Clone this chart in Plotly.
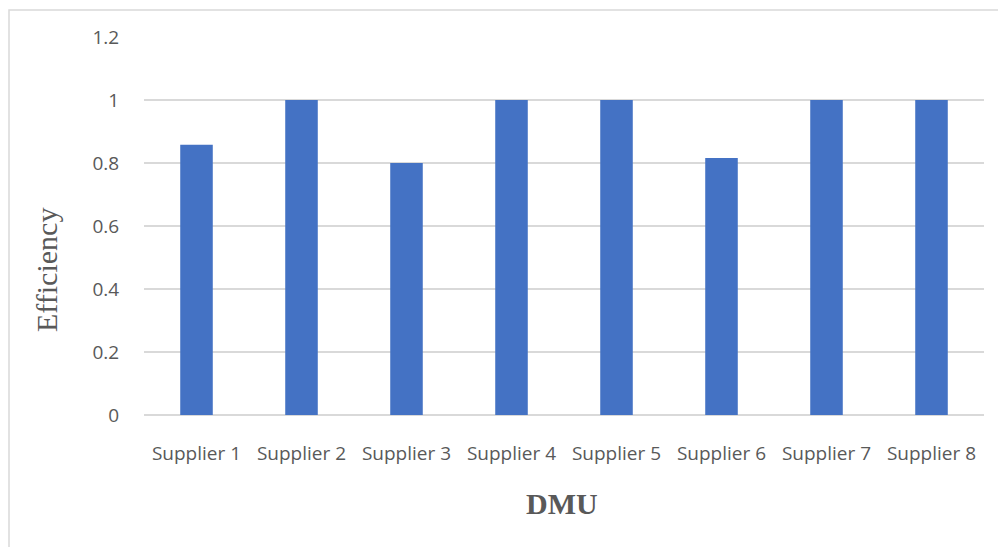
import plotly.graph_objects as go

categories = ["Supplier 1", "Supplier 2", "Supplier 3", "Supplier 4",
              "Supplier 5", "Supplier 6", "Supplier 7", "Supplier 8"]
efficiency = [0.858, 1.0, 0.80, 1.0, 1.0, 0.816, 1.0, 1.0]
y_ticks = [0, 0.2, 0.4, 0.6, 0.8, 1.0, 1.2]
y_tick_labels = ["0", "0.2", "0.4", "0.6", "0.8", "1", "1.2"]

W, H = 998, 547
L, R, T, B = 144, 984, 37, 415
pw, ph = R - L, B - T

def px(x):
    return (x - L) / pw

def py(y):
    return (B - y) / ph

fig = go.Figure(go.Bar(
    x=categories, y=efficiency,
    marker=dict(color="#4472C4", line=dict(width=0)),
    width=0.31,
))

grey = "#595959"
tick_font = dict(family="Open Sans, sans-serif", size=19, color=grey)
fig.update_layout(
    width=W, height=H,
    margin=dict(l=L, r=W - R, t=T, b=H - B),
    paper_bgcolor="white", plot_bgcolor="white",
    showlegend=False,
    font=dict(family="Open Sans, sans-serif", size=19, color=grey),
    xaxis=dict(
        showgrid=False, showline=False, zeroline=False,
        ticks="outside", ticklen=0, tickcolor="rgba(0,0,0,0)",
        ticklabelstandoff=21,
        tickfont=tick_font,
    ),
    yaxis=dict(
        range=[0, 1.2], tickvals=y_ticks, ticktext=y_tick_labels,
        showgrid=True, gridcolor="#D9D9D9", gridwidth=1.6,
        zeroline=True, zerolinecolor="#D9D9D9", zerolinewidth=1.8,
        showline=False,
        ticks="outside", ticklen=0, tickcolor="rgba(0,0,0,0)",
        ticklabelstandoff=20,
        tickfont=tick_font,
    ),
    shapes=[
        dict(type="path", xref="paper", yref="paper",
             path=f"M {px(9)},{py(560)} L {px(9)},{py(10)} L {px(1010)},{py(10)}",
             line=dict(color="#D9D9D9", width=1.5)),
    ],
    annotations=[
        dict(text="Efficiency", xref="paper", yref="paper",
             x=px(46), y=py(270), showarrow=False, textangle=-90,
             xanchor="center", yanchor="middle",
             font=dict(family="Liberation Serif, Times New Roman, serif", size=30, color=grey)),
        dict(text="<b>DMU</b>", xref="paper", yref="paper",
             x=px(562), y=py(503), showarrow=False,
             xanchor="center", yanchor="middle",
             font=dict(family="Liberation Serif, Times New Roman, serif", size=30, color=grey)),
    ],
)

fig.write_html("out.html")
